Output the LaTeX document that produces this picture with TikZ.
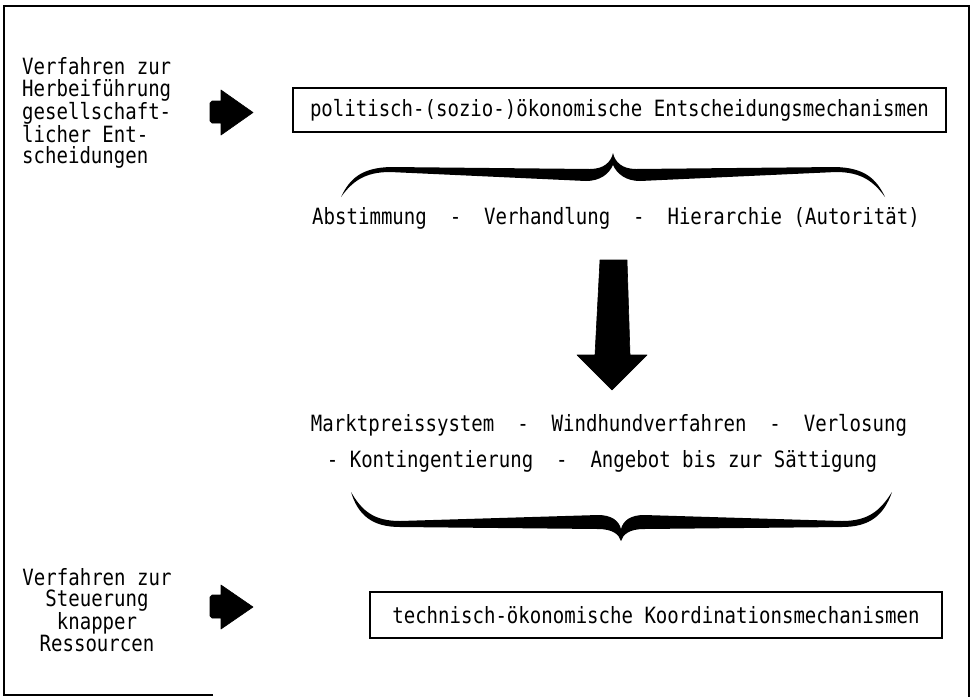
\documentclass[tikz,border=0pt]{standalone}
\usepackage{fontspec}
\newfontfamily\tw[FakeStretch=0.85]{DejaVu Sans Mono}
\begin{document}
\begin{tikzpicture}[x=1pt,y=-1pt,
  txt/.style={font={\tw\fontsize{22.4}{21.7}\selectfont}, inner sep=0pt, text=black},
  mbox/.style={txt, draw, line width=2.2pt},
  blk/.style={fill=black, draw=black, line width=0.6pt, line join=round}]
\useasboundingbox (0,0) rectangle (971,697);
% frame
\draw[line width=2.4pt] (213,695) -- (4,695) -- (4,6) -- (969,6) -- (969,697);
% left texts
\node[txt, align=left, anchor=west] (t1) at (22,113) {Verfahren zur\\Herbeiführung\\gesellschaft-\\licher Ent-\\scheidungen};
\node[txt, align=center] (t2) at (97,610) {Verfahren zur\\Steuerung\\knapper\\Ressourcen};
% boxes
\node[mbox, minimum width=653pt, minimum height=44pt] (b1) at (619.5,110) {politisch-(sozio-)ökonomische Entscheidungsmechanismen};
\node[mbox, minimum width=572pt, minimum height=46pt] (b2) at (656,615) {technisch-ökonomische Koordinationsmechanismen};
% line texts
\node[txt] (l1) at (616,218) {Abstimmung~~-~~Verhandlung~~-~~Hierarchie (Autorität)};
\node[txt] (l2) at (609,425) {Marktpreissystem~~-~~Windhundverfahren~~-~~Verlosung};
\node[txt] (l3) at (602,461) {-~Kontingentierung~~-~~Angebot bis zur Sättigung};
% left block arrows
\fill[blk] (212,101) -- (221,101) -- (221,90) -- (253,112.5) -- (221,135) -- (221,123) -- (212,123) -- (210,121) -- (210,103) -- cycle;
\fill[blk] (212,595) -- (221,595) -- (221,585) -- (253,607) -- (221,629) -- (221,618) -- (212,618) -- (210,616) -- (210,597) -- cycle;
% big down arrow
\fill[blk] (600,260) -- (627,260) -- (630,355) -- (647,355) -- (612,390) -- (577,355) -- (595,355) -- cycle;
% top brace
\fill[black] (341,197) .. controls (350,178) and (362,168) .. (390,167)
  -- (590,169) .. controls (604,169) and (611,162) .. (613,153)
  .. controls (615,162) and (622,169) .. (636,169)
  -- (836,167) .. controls (864,168) and (876,178) .. (885,197)
  .. controls (874,182) and (862,172) .. (836,172)
  -- (640,181) .. controls (626,181) and (617,174) .. (613,165)
  .. controls (609,174) and (600,181) .. (586,181)
  -- (390,172) .. controls (364,172) and (352,182) .. (341,197) -- cycle;
% bottom brace
\fill[black] (351,492) .. controls (358,515) and (372,527) .. (400,527)
  -- (598,529) .. controls (612,529) and (619,534) .. (621,541)
  .. controls (623,534) and (630,529) .. (644,529)
  -- (842,527) .. controls (870,527) and (884,515) .. (892,492)
  .. controls (880,511) and (868,521) .. (842,521)
  -- (644,515) .. controls (630,515) and (623,521) .. (621,529)
  .. controls (619,521) and (612,515) .. (598,515)
  -- (400,521) .. controls (374,521) and (362,511) .. (351,492) -- cycle;
\end{tikzpicture}
\end{document}
